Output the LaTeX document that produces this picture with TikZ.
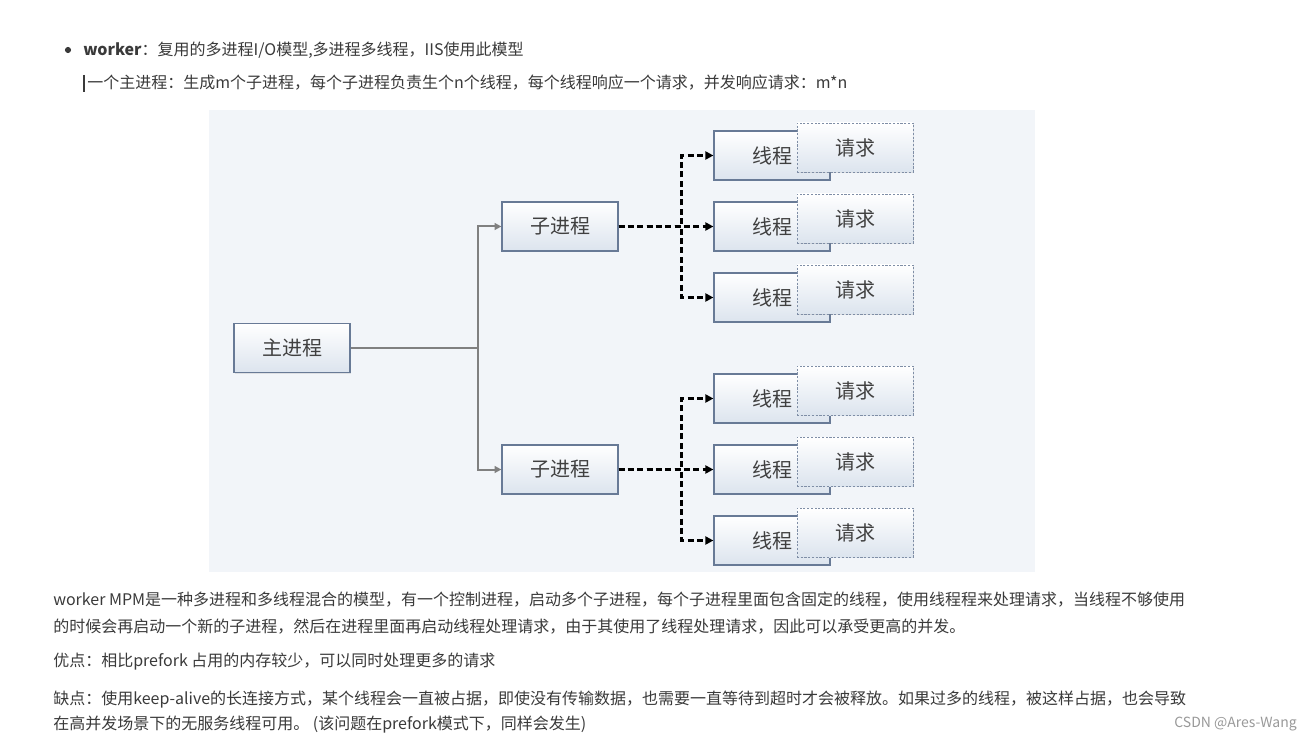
\documentclass[tikz,border=0pt]{standalone}
\usepackage{fontspec}
\setmainfont{Noto Sans CJK SC}
\usepackage{xcolor}
\usetikzlibrary{positioning,arrows.meta,shadows,trees}
\definecolor{PageText}{HTML}{3A3A3A}
\definecolor{PanelBg}{HTML}{F2F5F9}
\definecolor{BoxLine}{HTML}{687A96}
\definecolor{BoxShade}{HTML}{DCE4EE}
\definecolor{LinkGray}{HTML}{808080}
\tikzset{
    txt/.style={anchor=west, inner sep=0pt, text=PageText, font=\fontsize{12pt}{14pt}\selectfont},
    proc/.style={rectangle, draw=BoxLine, line width=0.9pt, top color=white, bottom color=BoxShade,
        minimum width=87pt, minimum height=36.75pt, inner sep=0pt, text=black!75,
        font=\fontsize{15pt}{15pt}\selectfont,
        drop shadow={opacity=0.18, shadow xshift=1pt, shadow yshift=-1pt}},
    req/.style={proc, draw=BoxLine!85, line width=0.6pt, dash pattern=on 1.6pt off 1.2pt}
}

\begin{document}
\begin{tikzpicture}[
        x=0.75pt, y=-0.75pt,
        grow=right,
        % 层级距离
        level 1/.style={sibling distance=182.25pt, level distance=201pt,
            edge from parent/.style={draw=LinkGray, line width=1.5pt, -{Triangle[length=5pt,width=5pt]}},
            edge from parent path={(\tikzparentnode.east) -- ++(127,0) |- (\tikzchildnode.west)}},
        level 2/.style={sibling distance=53.25pt, level distance=159pt,
            edge from parent/.style={draw=black, line width=2.2pt, dash pattern=on 4.5pt off 2.5pt,
                -{Triangle[length=6pt,width=6pt]}},
            edge from parent path={(\tikzparentnode.east) -- ++(63,0) |- (\tikzchildnode.west)}}
    ]

    % --- 页面 ---
    \fill[white] (0,0) rectangle (1312,741);
    \useasboundingbox (0,0) rectangle (1312,741);

    % 上方文字
    \fill[PageText] (68,50) circle (2.3pt);
    \node[txt] (head) at (83,50) {\textbf{worker}：复用的多进程I/O模型,多进程多线程，IIS使用此模型};
    \draw[PageText, line width=0.8pt] (84,75) -- (84,92);
    \node[txt] (sub) at (87,83) {一个主进程：生成m个子进程，每个子进程负责生个n个线程，每个线程响应一个请求，并发响应请求：m*n};

    % 图片底色
    \fill[PanelBg] (209,110) rectangle (1035,572);

    % --- 进程树 ---
    \node[proc] (main) at (292,348) {主进程}
        child { node[proc] (sub1) {子进程}
            child { node[proc] (t11) {线程} }
            child { node[proc] (t12) {线程} }
            child { node[proc] (t13) {线程} }
        }
        child { node[proc] (sub2) {子进程}
            child { node[proc] (t21) {线程} }
            child { node[proc] (t22) {线程} }
            child { node[proc] (t23) {线程} }
        };

    % 请求框
    \foreach \t in {t11,t12,t13,t21,t22,t23}
        \node[req] (r-\t) at ([xshift=62.25pt, yshift=6pt]\t.center) {请求};

    % --- 下方文字 ---
    \node[txt] (p1) at (53,600) {worker MPM是一种多进程和多线程混合的模型，有一个控制进程，启动多个子进程，每个子进程里面包含固定的线程，使用线程程来处理请求，当线程不够使用};
    \node[txt] (p2) at (53,627) {的时候会再启动一个新的子进程，然后在进程里面再启动线程处理请求，由于其使用了线程处理请求，因此可以承受更高的并发。};
    \node[txt] (p3) at (53,662) {优点：相比prefork 占用的内存较少，可以同时处理更多的请求};
    \node[txt] (p4) at (53,700) {缺点：使用keep-alive的长连接方式，某个线程会一直被占据，即使没有传输数据，也需要一直等待到超时才会被释放。如果过多的线程，被这样占据，也会导致};
    \node[txt] (p5) at (53,725) {在高并发场景下的无服务线程可用。 (该问题在prefork模式下，同样会发生)};
    \node[txt, anchor=east, text=black!40, font=\fontsize{10.5pt}{12pt}\selectfont] (mark) at (1297,724) {CSDN @Ares-Wang};

\end{tikzpicture}
\end{document}
